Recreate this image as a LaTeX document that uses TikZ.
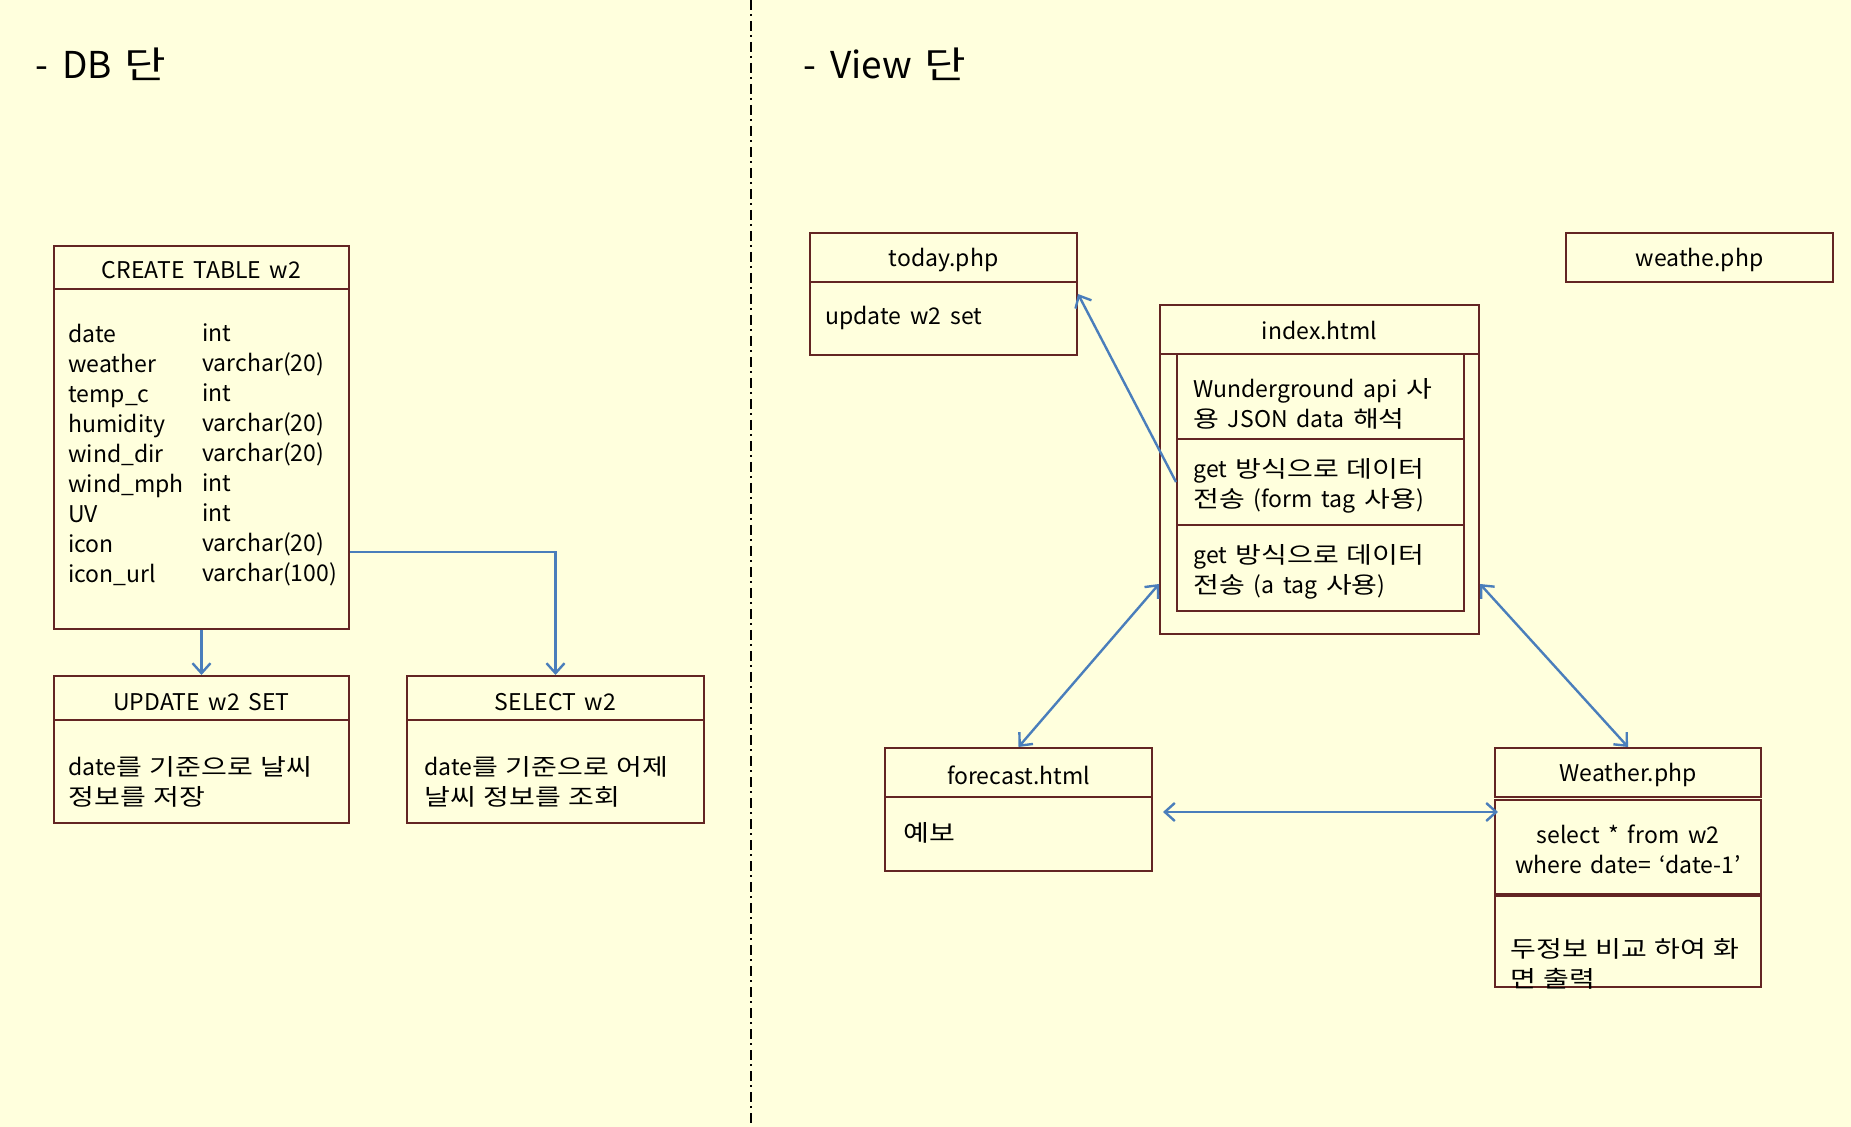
\documentclass[tikz,border=0pt]{standalone}
\usepackage{fontspec}
\setmainfont[WordSpace=1.7]{Noto Sans CJK KR}
\newfontfamily\kr[FakeStretch=1.22,WordSpace=1.2]{Noto Sans CJK KR}
\usetikzlibrary{arrows.meta,fit}
\definecolor{bg}{RGB}{255,255,221}
\definecolor{boxc}{RGB}{99,37,35}
\definecolor{arr}{RGB}{74,126,187}
\newcommand\bodyfont{\fontsize{11.5}{15}\selectfont}
\newcommand\headfont{\fontsize{18.5}{22}\selectfont}
\newcommand\K[1]{{\kr #1}}
\tikzset{
  bx/.style={draw=boxc, line width=1pt, inner sep=0pt, rectangle},
  divline/.style={draw=boxc, line width=1pt},
  conn/.style={draw=arr, line width=1.2pt, -{Straight Barb[length=5pt,width=9pt]}},
  both/.style={draw=arr, line width=1.2pt, {Straight Barb[length=5pt,width=9pt]}-{Straight Barb[length=5pt,width=9pt]}},
  txt/.style={inner sep=0pt, font=\bodyfont, align=left, anchor=west},
  ttl/.style={inner sep=0pt, font=\bodyfont},
  hd/.style={inner sep=0pt, font=\headfont, anchor=west},
}
\begin{document}
\begin{tikzpicture}[x=0.5pt,y=-0.5pt]
\fill[bg] (0,0) rectangle (1851,1127);
\useasboundingbox (0,0) rectangle (1851,1127);
\draw[line width=1pt, dash pattern=on 5pt off 2pt on 1pt off 2.5pt] (751,0) -- (751,1127);

% headings
\node[hd] (hdb) at (35,64) {-\hspace{7pt}DB\hspace{6pt}\K{단}};
\node[hd] (hview) at (803,64) {-\hspace{7pt}View\hspace{6pt}\K{단}};

% DB side
\node[bx, fit={(54,246)(349,629)}] (create) {};
\draw[divline] (54,289) -- (349,289);
\node[ttl] (createt) at (201.5,270) {CREATE TABLE w2};
\node[txt] (cols1) at (68,455) {date\\weather\\temp\_c\\humidity\\wind\_dir\\wind\_mph\\UV\\icon\\icon\_url};
\node[txt] (cols2) at (202,455) {int\\varchar(20)\\int\\varchar(20)\\varchar(20)\\int\\int\\varchar(20)\\varchar(100)};

\node[bx, fit={(54,676)(349,823)}] (update) {};
\draw[divline] (54,720) -- (349,720);
\node[ttl] (updatet) at (201.5,702) {UPDATE w2 SET};
\node[txt] (updateb) at (68,782) {date\K{를 기준으로 날씨}\\\K{정보를 저장}};

\node[bx, fit={(407,676)(704,823)}] (select) {};
\draw[divline] (407,720) -- (704,720);
\node[ttl] (selectt) at (555.5,702) {SELECT w2};
\node[txt] (selectb) at (424,782) {date\K{를 기준으로 어제}\\\K{날씨 정보를 조회}};

% View side
\node[bx, fit={(810,233)(1077,355)}] (today) {};
\draw[divline] (810,282) -- (1077,282);
\node[ttl] (todayt) at (943.5,260) {today.php};
\node[txt] (todayb) at (825,318) {update w2 set};

\node[bx, fit={(1566,233)(1833,282)}] (weathe) {};
\node[ttl] (weathet) at (1699.5,260) {weathe.php};

\node[bx, fit={(1160,305)(1479,634)}] (index) {};
\draw[divline] (1160,354) -- (1479,354);
\node[ttl] (indext) at (1319.5,331) {index.html};
\node[bx, fit={(1177,354)(1464,439)}] (api) {};
\node[bx, fit={(1177,439)(1464,525)}] (form) {};
\node[bx, fit={(1177,525)(1464,611)}] (atag) {};
\node[txt] (apit) at (1193,404) {Wunderground api \K{사}\\\K{용} JSON data \K{해석}};
\node[txt] (formt) at (1193,486) {get \K{방식으로 데이터}\\\K{전송} (form tag \K{사용})};
\node[txt] (atagt) at (1193,572) {get \K{방식으로 데이터}\\\K{전송} (a tag \K{사용})};

\node[bx, fit={(885,748)(1152,871)}] (forecast) {};
\draw[divline] (885,797) -- (1152,797);
\node[ttl] (forecastt) at (1018.5,775) {forecast.html};
\node[txt] (forecastb) at (903,833) {\K{예보}};

\node[bx, fit={(1495,748)(1761,797)}] (wphp) {};
\node[ttl] (wphpt) at (1628,775) {Weather.php};
\node[bx, fit={(1495,800)(1761,894)}] (wsel) {};
\node[ttl, align=center] (wselt) at (1628,849) {select * from w2\\where date= ‘date-1’};
\node[bx, fit={(1495,896)(1761,987)}] (wcmp) {};
\node[txt] (wcmpt) at (1510,964) {\K{두정보 비교 하여 화}\\\K{면 출력}};

% connectors
\draw[conn] (create.south) -- (update.north);
\draw[conn] ([yshift=39pt]create.south east) -| (select.north);
\draw[conn] (form.west) -- (today.east);
\draw[both] (forecast.north) -- ([yshift=25.5pt]index.south west);
\draw[both] ([yshift=25.5pt]index.south east) -- (wphp.north);
\coordinate (fa) at ([xshift=5pt,yshift=-1.25pt]forecast.east);
\draw[both] (fa) -- ([xshift=2pt]fa -| wsel.west);
\end{tikzpicture}
\end{document}
